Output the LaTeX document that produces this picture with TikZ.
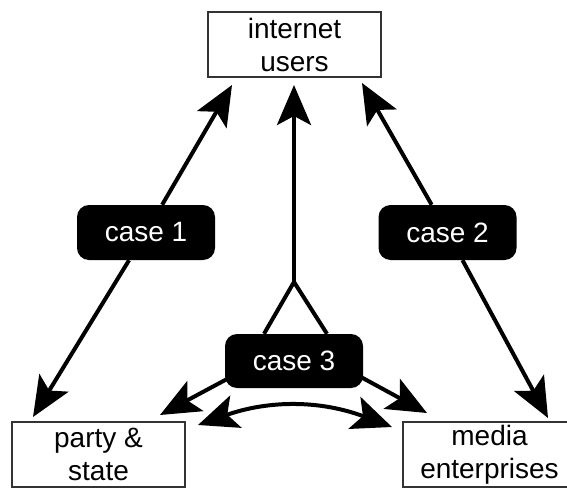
\documentclass[tikz,border=0pt]{standalone}
\usepackage{fontspec}
\setmainfont{Liberation Sans}
\usetikzlibrary{arrows.meta}
\begin{document}
\begin{tikzpicture}[x=1pt,y=-1pt,
  box/.style={draw=black!80, line width=1.3pt, fill=white, minimum width=173pt,
    minimum height=65pt, inner sep=0pt, align=center,
    font=\fontsize{28}{33}\selectfont},
  casebox/.style={fill=black, text=white, rounded corners=12pt, minimum width=138pt,
    minimum height=55pt, inner sep=0pt, font=\fontsize{28}{33}\selectfont},
  link/.style={line width=4pt},
  tip/.tip={Stealth[length=40pt,width=34pt,inset=9pt]},
  arr/.style={link, -tip},
  darr/.style={link, tip-tip}
]
\useasboundingbox (0,0) rectangle (567,487);

% actors
\node[box] (users) at (294.5,44.5) {internet\\users};
\node[box] (party) at (98.5,454.5) {party \&\\state};
\node[box] (media) at (489.5,454.5) {media\\enterprises};

% cases
\node[casebox] (c1) at (146,232.5) {case 1};
\node[casebox] (c2) at (447.5,232.5) {case 2};
\node[casebox, minimum height=54pt] (c3) at (294,361) {case 3};

% arrow ends
\coordinate (t1u) at (232,85);
\coordinate (t1d) at (33,417);
\coordinate (t2u) at (362,83);
\coordinate (t2d) at (548,418);
\coordinate (tu) at (294,85);
\coordinate (j) at (294,282);
\coordinate (t3l) at (160,415);
\coordinate (t3r) at (427,413);
\coordinate (dl) at (198,425);
\coordinate (dr) at (392,427);

% case 1: party & state <-> internet users
\draw[arr] (c1) -- (t1u);
\draw[arr] (c1) -- (t1d);

% case 2: media enterprises <-> internet users
\draw[arr] (c2) -- (t2u);
\draw[arr] (c2) -- (t2d);

% case 3: forked stem up to the users, arrows down to both actors
\draw[link] ([xshift=-30pt]c3.north) -- (j) -- ([xshift=33pt]c3.north);
\draw[arr] (j) -- (tu);
\draw[arr] ([shift={(6pt,-16pt)}]c3.west) -- (t3l);
\draw[arr] ([shift={(-6pt,-14pt)}]c3.east) -- (t3r);
\draw[darr] (dl) to[bend left=20] (dr);
\end{tikzpicture}
\end{document}
